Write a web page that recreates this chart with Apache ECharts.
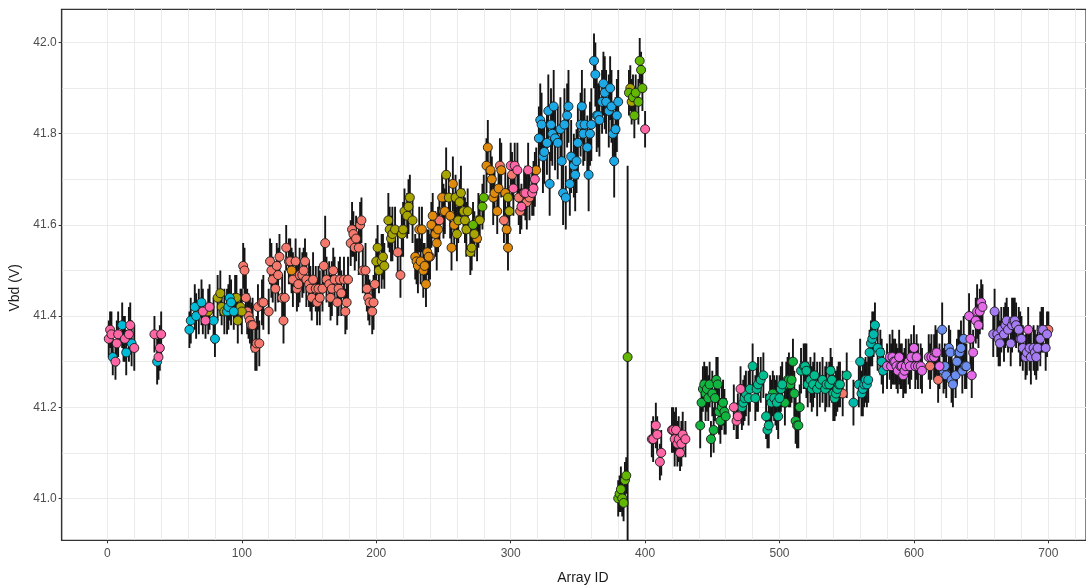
<!DOCTYPE html>
<html>
<head>
<meta charset="utf-8">
<title>Vbd vs Array ID</title>
<script src="https://cdn.jsdelivr.net/npm/echarts@6.0.0/dist/echarts.min.js"></script>
<style>
  html, body { margin: 0; padding: 0; background: #fff; }
  #chart { width: 1086px; height: 587px; }
</style>
</head>
<body>
<div id="chart"></div>
<script>
// 每个点: [Array ID, Vbd (V), 误差半宽 (V)]
const pinkPts = [
    [1, 41.35, .04], [2, 41.37, .04], [3, 41.36, .05], [6, 41.30, .04], [7, 41.34, .05], [8, 41.36, .05],
    [13, 41.35, .05], [16, 41.36, .06], [17, 41.38, .05], [20, 41.33, .05],
    [35, 41.36, .04], [38, 41.31, .05], [39, 41.33, .05], [40, 41.36, .05],
    [71, 41.41, .05], [73, 41.39, .04], [76, 41.42, .05],
    [300, 41.73, .05], [302, 41.68, .06], [303, 41.73, .05], [305, 41.72, .06], [308, 41.64, .05],
    [311, 41.67, .06], [313, 41.72, .06], [316, 41.67, .05], [317, 41.68, .06], [318, 41.70, .06],
    [400, 41.81, .04],
    [405, 41.13, .04], [406, 41.13, .05], [408, 41.16, .05], [409, 41.14, .04], [411, 41.08, .04], [412, 41.10, .05],
    [420, 41.15, .05], [421, 41.15, .05], [422, 41.13, .06], [423, 41.15, .05], [424, 41.12, .05],
    [425, 41.13, .05], [426, 41.10, .04], [427, 41.12, .05], [428, 41.14, .05], [430, 41.13, .04],
    [466, 41.20, .05], [468, 41.17, .04], [469, 41.18, .05], [471, 41.24, .05]
];

const cyanPts = [
    [4, 41.31, .04], [11, 41.38, .05], [12, 41.35, .05], [14, 41.32, .05], [18, 41.34, .05],
    [37, 41.30, .05],
    [61, 41.37, .04], [62, 41.39, .05], [65, 41.42, .05], [66, 41.40, .05], [70, 41.43, .05],
    [79, 41.39, .05], [80, 41.35, .04], [89, 41.41, .05], [90, 41.42, .05], [91, 41.44, .05],
    [92, 41.43, .05], [94, 41.41, .04]
];

const olivePts = [
    [68, 41.41, .05], [75, 41.41, .05], [82, 41.44, .05], [84, 41.45, .05], [85, 41.42, .04], [87, 41.41, .05],
    [95, 41.44, .05], [96, 41.44, .05], [97, 41.39, .05], [99, 41.42, .04], [100, 41.41, .05],
    [200, 41.52, .05], [201, 41.55, .05], [202, 41.50, .05], [204, 41.52, .06], [205, 41.53, .05],
    [206, 41.51, .05], [209, 41.61, .06], [210, 41.59, .05], [211, 41.57, .05], [212, 41.58, .06],
    [214, 41.59, .05], [219, 41.58, .05], [220, 41.59, .06], [221, 41.63, .05], [223, 41.62, .05],
    [224, 41.64, .06], [225, 41.66, .05], [227, 41.61, .05],
    [252, 41.71, .06], [254, 41.66, .05], [259, 41.66, .05], [260, 41.58, .06], [261, 41.61, .05],
    [262, 41.65, .05], [263, 41.67, .06], [265, 41.63, .05], [266, 41.61, .05], [267, 41.59, .06],
    [268, 41.63, .05], [270, 41.54, .05], [271, 41.55, .05], [273, 41.58, .05], [276, 41.61, .06],
    [277, 41.61, .05], [298, 41.66, .05], [299, 41.63, .05],
    [389, 41.90, .05], [390, 41.87, .05]
];

const salmonPts = [
    [101, 41.51, .05], [102, 41.50, .05], [103, 41.44, .05], [104, 41.41, .05], [105, 41.40, .05],
    [106, 41.39, .05], [107, 41.38, .05], [108, 41.38, .06], [110, 41.33, .05], [111, 41.34, .06],
    [112, 41.42, .05], [113, 41.34, .05], [115, 41.43, .05], [116, 41.43, .06], [120, 41.41, .05],
    [121, 41.52, .05], [122, 41.50, .06], [123, 41.48, .05], [125, 41.46, .05], [126, 41.51, .05],
    [127, 41.49, .06], [128, 41.53, .05], [130, 41.44, .05], [131, 41.39, .05], [132, 41.44, .06],
    [133, 41.55, .05], [135, 41.52, .05], [136, 41.52, .05], [138, 41.48, .06], [140, 41.52, .05],
    [141, 41.46, .05], [142, 41.47, .05], [143, 41.49, .06], [145, 41.49, .05], [146, 41.50, .05],
    [147, 41.52, .05], [148, 41.48, .06], [150, 41.47, .05], [151, 41.46, .05], [152, 41.44, .05],
    [153, 41.48, .06], [155, 41.46, .05], [156, 41.43, .05], [157, 41.46, .05], [158, 41.44, .06],
    [160, 41.46, .05], [161, 41.51, .05], [162, 41.56, .06], [163, 41.48, .05], [165, 41.47, .05],
    [166, 41.44, .05], [167, 41.46, .06], [168, 41.50, .05], [169, 41.48, .05], [171, 41.43, .05],
    [172, 41.46, .06], [173, 41.48, .05], [174, 41.45, .05], [176, 41.48, .05], [177, 41.41, .05],
    [178, 41.43, .06], [179, 41.48, .05], [181, 41.56, .05], [182, 41.59, .06], [183, 41.58, .05],
    [184, 41.55, .05], [185, 41.57, .05], [187, 41.55, .06], [188, 41.60, .05], [189, 41.61, .05],
    [190, 41.50, .05], [192, 41.50, .06], [193, 41.46, .05], [194, 41.44, .05], [195, 41.43, .05],
    [197, 41.41, .05], [198, 41.43, .06], [199, 41.47, .05],
    [216, 41.54, .05], [218, 41.49, .05], [240, 41.53, .05], [247, 41.61, .05], [292, 41.73, .06],
    [295, 41.61, .05], [301, 41.71, .05], [306, 41.66, .06], [307, 41.63, .05], [310, 41.67, .05],
    [312, 41.65, .06], [314, 41.66, .05],
    [547, 41.23, .05], [612, 41.29, .05], [618, 41.26, .05], [700, 41.37, .04]
];

const orangePts = [
    [137, 41.50, .05],
    [229, 41.53, .05], [230, 41.52, .05], [231, 41.51, .06], [232, 41.59, .05], [233, 41.52, .05],
    [234, 41.59, .05], [235, 41.50, .06], [236, 41.51, .05], [237, 41.47, .05], [238, 41.54, .05],
    [239, 41.53, .06], [241, 41.60, .05], [242, 41.62, .05], [244, 41.58, .05], [245, 41.56, .06],
    [246, 41.59, .05], [249, 41.66, .05], [250, 41.63, .06], [251, 41.63, .05], [255, 41.62, .05],
    [256, 41.55, .05], [257, 41.69, .06], [258, 41.60, .05], [275, 41.57, .05], [282, 41.73, .06],
    [283, 41.77, .06], [285, 41.72, .05], [286, 41.70, .05], [287, 41.66, .06], [288, 41.67, .05],
    [290, 41.63, .05], [291, 41.68, .05], [293, 41.72, .06], [296, 41.67, .05], [297, 41.59, .05],
    [298, 41.55, .05], [319, 41.72, .05]
];

const limePts = [
    [272, 41.60, .05], [279, 41.64, .05], [280, 41.66, .05],
    [380, 41.00, .04], [381, 41.01, .04], [382, 41.02, .05], [383, 41.00, .04], [384, 40.99, .04],
    [385, 41.04, .04], [386, 41.05, .04], [387, 41.31, .42],
    [388, 41.89, .05], [391, 41.88, .05], [392, 41.84, .05], [393, 41.89, .04], [395, 41.87, .05],
    [396, 41.96, .05], [397, 41.94, .04], [398, 41.90, .05]
];

const bluePts = [
    [321, 41.79, .07], [322, 41.83, .08], [323, 41.82, .07], [324, 41.75, .08], [325, 41.76, .07],
    [327, 41.78, .07], [328, 41.85, .08], [329, 41.69, .07], [330, 41.82, .08], [331, 41.80, .07],
    [332, 41.86, .08], [333, 41.79, .07], [335, 41.78, .08], [337, 41.81, .07], [338, 41.74, .08],
    [339, 41.67, .07], [340, 41.82, .08], [341, 41.66, .07], [342, 41.84, .07], [343, 41.86, .08],
    [344, 41.69, .07], [345, 41.75, .08], [347, 41.73, .07], [348, 41.71, .08], [349, 41.74, .07],
    [350, 41.78, .08], [352, 41.82, .07], [353, 41.86, .08], [354, 41.80, .07], [355, 41.82, .08],
    [357, 41.77, .07], [358, 41.71, .08], [359, 41.80, .07], [360, 41.82, .08], [362, 41.96, .06],
    [363, 41.93, .07], [364, 41.84, .08], [365, 41.84, .07], [366, 41.83, .08], [368, 41.87, .07],
    [369, 41.91, .07], [370, 41.89, .08], [371, 41.87, .07], [373, 41.85, .08], [374, 41.90, .07],
    [375, 41.86, .08], [376, 41.80, .07], [377, 41.74, .08], [378, 41.81, .07], [379, 41.84, .08],
    [380, 41.87, .07]
];

const greenPts = [
    [441, 41.16, .05], [442, 41.21, .05], [443, 41.24, .05], [444, 41.25, .05], [445, 41.23, .06],
    [446, 41.24, .05], [447, 41.22, .05], [448, 41.25, .05], [449, 41.13, .04], [450, 41.23, .05],
    [451, 41.15, .05], [452, 41.22, .05], [453, 41.26, .05], [454, 41.25, .06], [455, 41.19, .05],
    [456, 41.17, .05], [457, 41.20, .05], [458, 41.21, .05], [459, 41.19, .05], [460, 41.18, .04],
    [495, 41.23, .05], [497, 41.21, .05],
    [504, 41.21, .05], [505, 41.25, .05], [506, 41.26, .05], [507, 41.26, .06], [508, 41.25, .05],
    [509, 41.26, .05], [510, 41.30, .05], [511, 41.23, .05], [512, 41.17, .05], [513, 41.16, .05],
    [514, 41.16, .05], [515, 41.20, .05]
];

const tealPts = [
    [472, 41.20, .05], [473, 41.21, .05], [474, 41.22, .05], [475, 41.23, .05], [477, 41.22, .06],
    [478, 41.24, .05], [480, 41.29, .05], [482, 41.22, .05], [483, 41.24, .05], [484, 41.25, .06],
    [486, 41.26, .05], [488, 41.27, .05], [490, 41.18, .05], [491, 41.15, .04], [492, 41.16, .05],
    [493, 41.22, .05], [494, 41.21, .05], [496, 41.22, .05], [498, 41.21, .06], [499, 41.18, .05],
    [500, 41.22, .05], [501, 41.24, .05], [502, 41.25, .05],
    [516, 41.28, .05], [518, 41.29, .05], [519, 41.29, .05], [520, 41.28, .06], [521, 41.25, .05],
    [523, 41.26, .05], [524, 41.24, .05], [525, 41.25, .05], [526, 41.27, .05], [528, 41.24, .06],
    [530, 41.25, .05], [532, 41.26, .05], [534, 41.24, .05], [535, 41.25, .05], [537, 41.25, .05],
    [538, 41.28, .05], [539, 41.26, .05], [540, 41.23, .06], [541, 41.22, .05], [542, 41.23, .05],
    [543, 41.24, .05], [544, 41.25, .05], [545, 41.25, .05], [550, 41.27, .05]
];

const aquaPts = [
    [555, 41.21, .05], [559, 41.25, .05], [560, 41.30, .05], [561, 41.23, .05], [562, 41.24, .06],
    [563, 41.25, .05], [564, 41.26, .05], [565, 41.25, .05], [566, 41.26, .05], [567, 41.32, .05],
    [568, 41.34, .05], [569, 41.35, .06], [570, 41.36, .05], [571, 41.38, .05], [573, 41.33, .05],
    [575, 41.32, .05], [576, 41.30, .05], [577, 41.28, .05]
];

const magentaPts = [
    [580, 41.29, .05], [582, 41.31, .05], [583, 41.29, .05], [584, 41.31, .06], [585, 41.30, .05],
    [586, 41.30, .05], [587, 41.29, .05], [588, 41.28, .05], [589, 41.31, .06], [590, 41.29, .05],
    [591, 41.29, .05], [592, 41.27, .05], [593, 41.28, .05], [594, 41.29, .06], [596, 41.30, .05],
    [597, 41.29, .05], [598, 41.31, .05], [600, 41.33, .05], [601, 41.29, .05], [602, 41.31, .05],
    [603, 41.29, .05], [605, 41.29, .05], [606, 41.28, .05], [611, 41.31, .05], [613, 41.31, .05],
    [615, 41.31, .05], [616, 41.32, .06], [617, 41.32, .05], [619, 41.29, .05],
    [641, 41.40, .05], [642, 41.35, .06], [643, 41.27, .05], [644, 41.32, .05], [646, 41.39, .05],
    [647, 41.41, .06], [648, 41.38, .05], [649, 41.41, .05], [650, 41.43, .05], [651, 41.42, .05],
    [685, 41.37, .05]
];

const periwinklePts = [
    [621, 41.37, .06], [622, 41.28, .05], [623, 41.29, .05], [624, 41.27, .05], [626, 41.33, .05],
    [627, 41.32, .05], [628, 41.26, .05], [629, 41.25, .05], [631, 41.27, .05], [632, 41.30, .05],
    [633, 41.32, .05], [634, 41.32, .05], [635, 41.33, .06], [636, 41.28, .05], [637, 41.35, .05],
    [638, 41.29, .05], [639, 41.29, .05]
];

const purplePts = [
    [659, 41.36, .05], [660, 41.41, .05], [662, 41.36, .05], [663, 41.35, .06], [664, 41.34, .05],
    [665, 41.37, .05], [667, 41.36, .06], [668, 41.38, .05], [669, 41.39, .05], [670, 41.37, .05],
    [672, 41.34, .05], [673, 41.38, .06], [674, 41.39, .05], [675, 41.39, .05], [676, 41.38, .05],
    [678, 41.37, .05], [679, 41.35, .06], [680, 41.35, .05], [681, 41.33, .05], [683, 41.31, .05],
    [684, 41.32, .05], [686, 41.33, .05], [687, 41.31, .06], [689, 41.33, .05], [690, 41.32, .05],
    [691, 41.31, .05], [692, 41.33, .05], [694, 41.35, .06], [695, 41.37, .05], [696, 41.37, .05],
    [698, 41.33, .05], [699, 41.36, .05]
];

// 坐标轴刻度与网格线
const xTicks = [0, 100, 200, 300, 400, 500, 600, 700];
const xGrid = [0, 20, 40, 60, 80, 100, 120, 140, 160, 180, 200, 220, 240, 260, 280, 300, 320, 340,
    360, 380, 400, 420, 440, 460, 480, 500, 520, 540, 560, 580, 600, 620, 640, 660, 680, 700, 720];
const yTicks = [41.0, 41.2, 41.4, 41.6, 41.8, 42.0];
const yGrid = [41.0, 41.1, 41.2, 41.3, 41.4, 41.5, 41.6, 41.7, 41.8, 41.9, 42.0];

const chart = echarts.init(document.getElementById('chart'));

const groups = [
    { pts: salmonPts, color: '#F5786C' },
    { pts: orangePts, color: '#DF8A0C' },
    { pts: olivePts, color: '#A8A400' },
    { pts: limePts, color: '#62B800' },
    { pts: greenPts, color: '#12B540' },
    { pts: tealPts, color: '#00BE90' },
    { pts: aquaPts, color: '#00BAAE' },
    { pts: cyanPts, color: '#00BCD8' },
    { pts: bluePts, color: '#1DA9E6' },
    { pts: periwinklePts, color: '#6C8EF0' },
    { pts: purplePts, color: '#A57CF2' },
    { pts: magentaPts, color: '#E36BE8' },
    { pts: pinkPts, color: '#FF66A6' }
];

const allPts = groups.reduce((acc, g) => acc.concat(g.pts), []);

// 误差线
function renderErrorBar(params, api) {
    const id = api.value(0);
    const v = api.value(1);
    const e = api.value(2);
    const top = api.coord([id, v + e]);
    const bot = api.coord([id, v - e]);
    return {
        type: 'line',
        shape: { x1: top[0], y1: top[1], x2: bot[0], y2: bot[1] },
        style: { stroke: '#151515', lineWidth: 1.9 }
    };
}

const font = "'Liberation Sans', Arial, sans-serif";
const xMin = -34, xMax = 728;
const yMin = 40.908, yMax = 42.073;

const series = [{
    type: 'custom',
    renderItem: renderErrorBar,
    data: allPts,
    encode: { x: 0, y: 1 },
    clip: true,
    silent: true,
    z: 1
}];

groups.forEach(g => {
    series.push({
        type: 'scatter',
        data: g.pts.map(p => [p[0], p[1]]),
        symbol: 'circle',
        symbolSize: 9,
        itemStyle: { color: g.color, borderColor: '#1a1a1a', borderWidth: 0.9, opacity: 1 },
        clip: true,
        z: 2
    });
});

const option = {
    animation: false,
    backgroundColor: '#ffffff',
    textStyle: { fontFamily: font },
    grid: {
        left: 61.7, right: 0, top: 9.3, bottom: 46.7,
        outerBoundsMode: 'none',
        containLabel: false,
        show: true, borderColor: '#333333', borderWidth: 1.2, backgroundColor: '#ffffff'
    },
    xAxis: [
        {
            type: 'value', min: xMin, max: xMax, position: 'bottom',
            name: 'Array ID', nameLocation: 'middle', nameGap: 31,
            nameTextStyle: { color: '#1a1a1a', fontSize: 14, fontFamily: font, padding: [0, 0, 0, 18] },
            axisLine: { show: true, onZero: false, lineStyle: { color: '#333333', width: 1.2 } },
            axisTick: { show: true, length: 3, customValues: xTicks, lineStyle: { color: '#333333' } },
            axisLabel: { customValues: xTicks, color: '#4d4d4d', fontSize: 12, margin: 7, fontFamily: font },
            splitLine: { show: false }
        },
        {
            type: 'value', min: xMin, max: xMax, position: 'bottom',
            axisLine: { show: false, onZero: false },
            axisTick: { show: false, customValues: xGrid },
            axisLabel: { show: false },
            splitLine: { show: true, lineStyle: { color: '#ebebeb', width: 1 } }
        }
    ],
    yAxis: [
        {
            type: 'value', min: yMin, max: yMax, position: 'left',
            name: 'Vbd (V)', nameLocation: 'middle', nameGap: 33,
            nameTextStyle: { color: '#1a1a1a', fontSize: 14, fontFamily: font, padding: [0, 26, 0, 0] },
            axisLine: { show: true, onZero: false, lineStyle: { color: '#333333', width: 1.2 } },
            axisTick: { show: true, length: 3, customValues: yTicks, lineStyle: { color: '#333333' } },
            axisLabel: {
                customValues: yTicks, color: '#4d4d4d', fontSize: 12, margin: 5, fontFamily: font,
                formatter: v => v.toFixed(1)
            },
            splitLine: { show: false }
        },
        {
            type: 'value', min: yMin, max: yMax, position: 'left',
            axisLine: { show: false, onZero: false },
            axisTick: { show: false, customValues: yGrid },
            axisLabel: { show: false },
            splitLine: { show: true, lineStyle: { color: '#ebebeb', width: 1 } }
        }
    ],
    series: series
};

chart.setOption(option);
window.addEventListener('resize', () => chart.resize());
</script>
</body>
</html>
